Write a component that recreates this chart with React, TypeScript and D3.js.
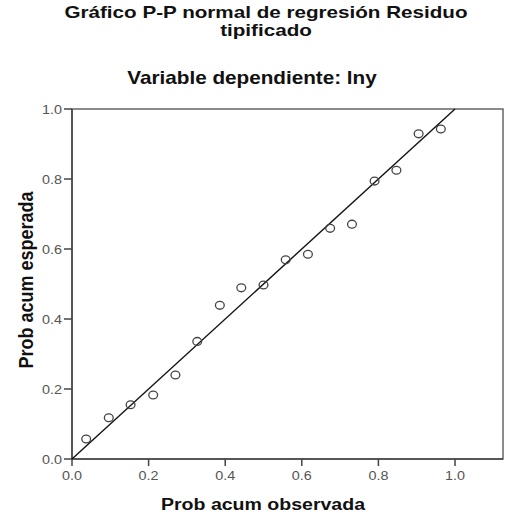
import React, { useEffect, useRef } from 'react';
import * as d3 from 'd3';

// cumulative probabilities
const observed = [0.037, 0.096, 0.153, 0.212, 0.27, 0.327, 0.386, 0.442, 0.5, 0.558, 0.616, 0.674, 0.731, 0.79, 0.847, 0.905, 0.963];
const expected = [0.057, 0.118, 0.155, 0.183, 0.24, 0.336, 0.439, 0.489, 0.497, 0.569, 0.585, 0.659, 0.671, 0.794, 0.825, 0.929, 0.943];
const tickValues = [0, 0.2, 0.4, 0.6, 0.8, 1.0];
const titleLines = ['Gráfico P-P normal de regresión Residuo', 'tipificado'];
const subtitle = 'Variable dependiente: lny';
const xTitle = 'Prob acum observada';
const yTitle = 'Prob acum esperada';

const App: React.FC = () => {
  const svgRef = useRef<SVGSVGElement | null>(null);

  useEffect(() => {
    const width = 507;
    const height = 513;
    const sx = 1.15; // the original picture is a bit wider than tall
    const font = '"Liberation Sans", Arial, sans-serif';

    const svg = d3.select(svgRef.current)
      .attr('width', width)
      .attr('height', height)
      .style('background-color', 'white');
    svg.selectAll('*').remove();

    const x = d3.scaleLinear().domain([0, 1]).range([72, 455]);
    const y = d3.scaleLinear().domain([0, 1]).range([459, 109]);
    const boxRight = 503;

    const addText = (tx: number, ty: number, txt: string, size: number, weight: string, anchor: string, fill: string, scaleX = sx) =>
      svg.append('text')
        .attr('transform', `translate(${tx},${ty}) scale(${scaleX},1)`)
        .attr('text-anchor', anchor)
        .attr('font-family', font)
        .attr('font-size', size)
        .attr('font-weight', weight)
        .attr('fill', fill)
        .text(txt);

    // title
    addText(266, 18, titleLines[0], 16, 'bold', 'middle', '#111', 1.29);
    addText(266, 36, titleLines[1], 16, 'bold', 'middle', '#111', 1.29);
    addText(252, 84, subtitle, 18, 'bold', 'middle', '#111');

    // frame
    svg.append('rect')
      .attr('x', x(0))
      .attr('y', y(1))
      .attr('width', boxRight - x(0))
      .attr('height', y(0) - y(1))
      .attr('fill', 'none')
      .attr('stroke', '#666')
      .attr('stroke-width', 1.5);

    // left and bottom axis lines a bit darker
    svg.append('line')
      .attr('x1', x(0)).attr('x2', x(0)).attr('y1', y(1)).attr('y2', y(0))
      .attr('stroke', '#444').attr('stroke-width', 1.5);
    svg.append('line')
      .attr('x1', x(0)).attr('x2', boxRight).attr('y1', y(0)).attr('y2', y(0))
      .attr('stroke', '#444').attr('stroke-width', 1.5);

    const fmt = d3.format('.1f');

    tickValues.forEach(t => {
      svg.append('line')
        .attr('x1', x(t)).attr('x2', x(t))
        .attr('y1', y(0)).attr('y2', y(0) + 7)
        .attr('stroke', '#444').attr('stroke-width', 1.5);
      addText(x(t), 480, fmt(t), 12.5, 'normal', 'middle', '#555');

      svg.append('line')
        .attr('x1', x(0) - 8).attr('x2', x(0))
        .attr('y1', y(t)).attr('y2', y(t))
        .attr('stroke', '#444').attr('stroke-width', 1.5);
      addText(62, y(t) + 4.5, fmt(t), 12.5, 'normal', 'end', '#555');
    });

    // axis titles
    addText(263, 510, xTitle, 17, 'bold', 'middle', '#111');
    svg.append('text')
      .attr('transform', `translate(33,280) rotate(-90) scale(1,${sx})`)
      .attr('text-anchor', 'middle')
      .attr('font-family', font)
      .attr('font-size', 18)
      .attr('font-weight', 'bold')
      .attr('fill', '#111')
      .text(yTitle);

    // reference line
    svg.append('line')
      .attr('x1', x(0)).attr('y1', y(0))
      .attr('x2', x(1)).attr('y2', y(1))
      .attr('stroke', '#111')
      .attr('stroke-width', 1.4);

    // points
    svg.append('g')
      .selectAll('ellipse')
      .data(observed.map((o, i) => ({ o, e: expected[i] })))
      .enter()
      .append('ellipse')
      .attr('cx', d => x(d.o))
      .attr('cy', d => y(d.e))
      .attr('rx', 4.4)
      .attr('ry', 3.9)
      .attr('fill', 'none')
      .attr('stroke', '#444')
      .attr('stroke-width', 1.3);
  }, []);

  return (
    <div>
      <svg ref={svgRef} style={{ position: 'absolute', left: 0, top: 0 }}></svg>
    </div>
  );
};

export default App;
